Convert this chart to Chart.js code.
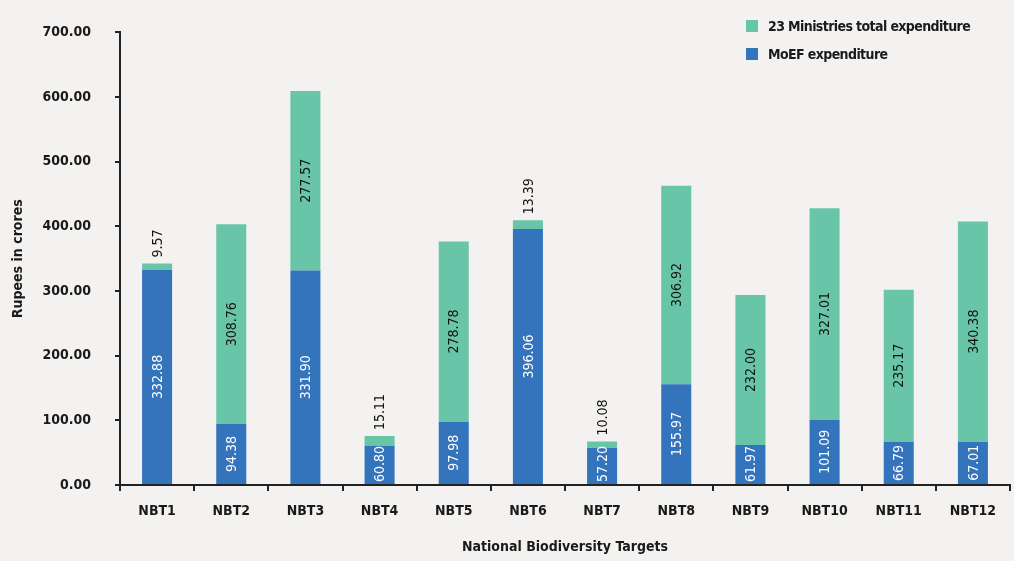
<!DOCTYPE html>
<html>
<head>
<meta charset="utf-8">
<script src="https://cdn.jsdelivr.net/npm/chart.js@4/dist/chart.umd.min.js"></script>
<style>
  html, body { margin: 0; padding: 0; background: #f3f2f0; }
  #wrap { position: relative; width: 1014px; height: 561px; }
  #legend { position: absolute; left: 746px; top: 12px; font-family: "DejaVu Sans Condensed", sans-serif; font-weight: bold; font-size: 14px; letter-spacing: -0.6px; color: #1a1a1a; white-space: nowrap; }
  #legend div { height: 28px; line-height: 20px; display: flex; align-items: center; }
  #legend span.box { width: 12px; height: 12px; display: inline-block; margin-right: 10px; }
</style>
</head>
<body>
<div id="wrap">
  <canvas id="myChart" width="1014" height="561"></canvas>
  <div id="legend"></div>
</div>
<script>
const targets = ["NBT1", "NBT2", "NBT3", "NBT4", "NBT5", "NBT6", "NBT7", "NBT8", "NBT9", "NBT10", "NBT11", "NBT12"]
const moefValues = [332.88, 94.38, 331.90, 60.80, 97.98, 396.06, 57.20, 155.97, 61.97, 101.09, 66.79, 67.01]
const ministriesValues = [9.57, 308.76, 277.57, 15.11, 278.78, 13.39, 10.08, 306.92, 232.00, 327.01, 235.17, 340.38]
const yTicks = [0, 100, 200, 300, 400, 500, 600, 700]

const blue = '#3474bc'
const green = '#69c5a8'
const fontName = '"DejaVu Sans Condensed", sans-serif'

// writes each segment value sideways; blue ones stay in the bar,
// short green tops get their value just above the bar
const barValues = {
    id: 'barValues',
    afterDatasetsDraw(chart) {
        const ctx = chart.ctx
        ctx.save()
        ctx.font = '14px ' + fontName
        chart.data.datasets.forEach((ds, di) => {
            const meta = chart.getDatasetMeta(di)
            meta.data.forEach((bar, i) => {
                const txt = ds.data[i].toFixed(2)
                const w = ctx.measureText(txt).width
                const h = Math.abs(bar.base - bar.y)
                ctx.save()
                ctx.textBaseline = 'middle'
                if (h > w + 6) {
                    ctx.translate(bar.x, (bar.y + bar.base) / 2)
                    ctx.rotate(-Math.PI / 2)
                    ctx.textAlign = 'center'
                    ctx.fillStyle = di === 0 ? '#ffffff' : '#111111'
                    ctx.fillText(txt, 0, 1)
                } else if (di === 0) {
                    ctx.translate(bar.x, bar.base - 2)
                    ctx.rotate(-Math.PI / 2)
                    ctx.textAlign = 'left'
                    ctx.fillStyle = '#ffffff'
                    ctx.fillText(txt, 0, 1)
                } else {
                    ctx.translate(bar.x, bar.y - 6)
                    ctx.rotate(-Math.PI / 2)
                    ctx.textAlign = 'left'
                    ctx.fillStyle = '#111111'
                    ctx.fillText(txt, 0, 1)
                }
                ctx.restore()
            })
        })
        ctx.restore()
    }
}

function my_stacked_chart() {
    const data = {
        labels: targets,
        datasets: [{
            label: 'MoEF expenditure',
            data: moefValues,
            backgroundColor: blue
        }, {
            label: '23 Ministries total expenditure',
            data: ministriesValues,
            backgroundColor: green
        }]
    }

    const chart = new Chart("myChart", {
        type: 'bar',
        data: data,
        plugins: [barValues],
        options: {
            responsive: false,
            animation: false,
            barPercentage: 0.405,
            categoryPercentage: 1,
            layout: { padding: { top: 32, right: 4, bottom: 0, left: 0 } },
            scales: {
                x: {
                    stacked: true,
                    afterFit: (s) => { s.height = 76 },
                    border: { color: '#222', width: 2 },
                    grid: { drawOnChartArea: false, color: '#222', lineWidth: 2, tickLength: 6, offset: true },
                    ticks: { color: '#1a1a1a', padding: 12, font: { family: fontName, weight: 'bold', size: 14 } },
                    title: {
                        display: true, text: 'National Biodiversity Targets', color: '#1a1a1a',
                        font: { family: fontName, weight: 'bold', size: 14 }, padding: { top: 4, bottom: 5 }
                    }
                },
                y: {
                    stacked: true,
                    min: 0,
                    max: 700,
                    afterFit: (s) => { s.width = 120 },
                    afterBuildTicks: (s) => { s.ticks = yTicks.map(v => ({ value: v })) },
                    border: { color: '#222', width: 2 },
                    grid: { drawOnChartArea: false, color: '#222', lineWidth: 2, tickLength: 5 },
                    ticks: {
                        color: '#1a1a1a', padding: 24,
                        font: { family: fontName, weight: 'bold', size: 14 },
                        callback: (v) => Number(v).toFixed(2)
                    },
                    title: {
                        display: true, text: 'Rupees in crores', color: '#1a1a1a',
                        font: { family: fontName, weight: 'bold', size: 14 }, padding: { top: 10, bottom: 4 }
                    }
                }
            },
            plugins: {
                legend: { display: false },
                tooltip: { enabled: false }
            }
        }
    })

    // legend, top dataset listed first
    const legend = document.getElementById('legend')
    chart.data.datasets.slice().reverse().forEach(ds => {
        const row = document.createElement('div')
        row.innerHTML = '<span class="box" style="background:' + ds.backgroundColor + '"></span>' + ds.label
        legend.appendChild(row)
    })
}

my_stacked_chart()
</script>
</body>
</html>
